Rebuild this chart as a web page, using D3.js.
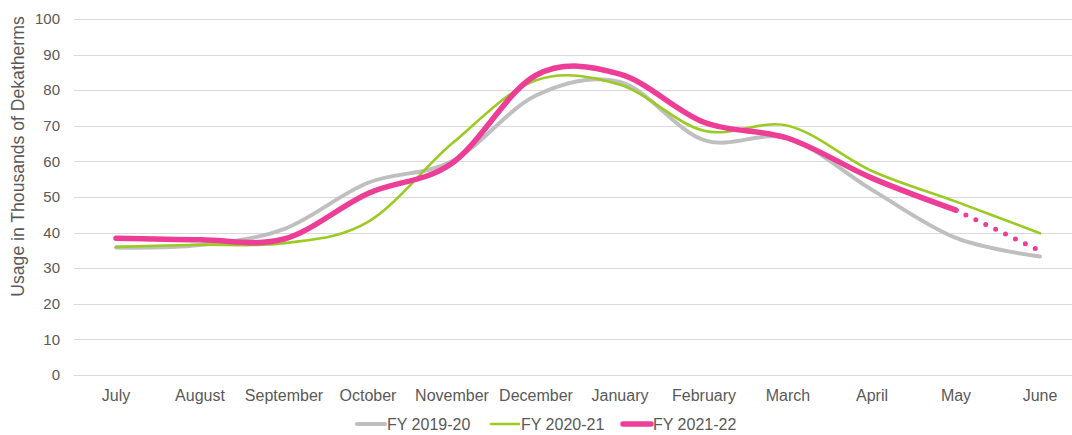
<!DOCTYPE html>
<html>
<head>
<meta charset="utf-8">
<script src="https://cdn.jsdelivr.net/npm/d3@7"></script>
<style>
  body { margin: 0; background: #fff; }
  svg { display: block; font-family: "Liberation Sans", Arial, sans-serif; }
</style>
</head>
<body>
<script>
(function (d3) {
  "use strict";

  /***** Data *****/
  var months = ["July", "August", "September", "October", "November", "December",
    "January", "February", "March", "April", "May", "June"];
  var fy1920 = [35.8, 36.5, 41, 54, 60, 78.5, 82.3, 66, 66.5, 52, 38.5, 33.3];
  var fy2021 = [36, 36.6, 37, 43, 65, 82.8, 81.5, 68.6, 70, 57.3, 48.7, 39.8];
  var fy2122 = [38.4, 38, 38.2, 51, 59.5, 84.2, 84.5, 71, 66.5, 55.3, 46.3];
  var fy2122Forecast = [null, null, null, null, null, null, null, null, null, null, 46.3, 34.9];
  var yTicks = [0, 10, 20, 30, 40, 50, 60, 70, 80, 90, 100];
  var seriesNames = ["FY 2019-20", "FY 2020-21", "FY 2021-22"];

  /***** Configuration *****/
  var W = 1072, H = 435;
  var margin = { top: 19, left: 74 };
  var plotRight = 1082;
  var plotBottom = 375;
  var textColor = "#595959";

  var x = d3.scaleBand().domain(months).range([margin.left, plotRight]);
  var y = d3.scaleLinear().domain([0, 100]).range([plotBottom, margin.top]);
  var cx = function (m) { return x(m) + x.bandwidth() / 2; };

  var svg = d3.select("body").append("svg")
    .attr("width", W)
    .attr("height", H);

  // gridlines
  svg.append("g").selectAll("line")
    .data(yTicks)
    .join("line")
    .attr("x1", margin.left).attr("x2", plotRight)
    .attr("y1", function (d) { return Math.round(y(d)) + 0.5; })
    .attr("y2", function (d) { return Math.round(y(d)) + 0.5; })
    .attr("stroke", "#D9D9D9")
    .attr("stroke-width", 1);

  // y tick labels
  svg.append("g").selectAll("text")
    .data(yTicks)
    .join("text")
    .attr("x", 60)
    .attr("y", function (d) { return y(d); })
    .attr("dy", "0.35em")
    .attr("text-anchor", "end")
    .attr("font-size", 15)
    .attr("fill", textColor)
    .text(function (d) { return d; });

  // x tick labels
  svg.append("g").selectAll("text")
    .data(months)
    .join("text")
    .attr("x", cx)
    .attr("y", 395)
    .attr("dy", "0.35em")
    .attr("text-anchor", "middle")
    .attr("font-size", 16)
    .attr("fill", textColor)
    .text(function (d) { return d; });

  // y axis title
  svg.append("text")
    .attr("transform", "translate(18,156.5) rotate(-90)")
    .attr("dy", "0.35em")
    .attr("text-anchor", "middle")
    .attr("font-size", 17.6)
    .attr("fill", textColor)
    .text("Usage in Thousands of Dekatherms");

  /***** Lines *****/
  var line = d3.line()
    .defined(function (d) { return d != null; })
    .x(function (d, i) { return cx(months[i]); })
    .y(function (d) { return y(d); })
    .curve(d3.curveCardinal.tension(0));

  var series = [
    { name: seriesNames[0], values: fy1920, color: "#BFBFBF", width: 4 },
    { name: seriesNames[1], values: fy2021, color: "#9BCB22", width: 2.6 },
    { name: seriesNames[2], values: fy2122, color: "#EE3D96", width: 5.5 }
  ];

  svg.append("g").selectAll("path")
    .data(series)
    .join("path")
    .attr("d", function (s) { return line(s.values); })
    .attr("fill", "none")
    .attr("stroke", function (s) { return s.color; })
    .attr("stroke-width", function (s) { return s.width; })
    .attr("stroke-linecap", "round")
    .attr("stroke-linejoin", "round");

  // forecast segment (dotted)
  svg.append("path")
    .attr("d", d3.line()
      .defined(function (d) { return d != null; })
      .x(function (d, i) { return cx(months[i]); })
      .y(function (d) { return y(d); })(fy2122Forecast))
    .attr("fill", "none")
    .attr("stroke", "#EE3D96")
    .attr("stroke-width", 5)
    .attr("stroke-linecap", "round")
    .attr("stroke-dasharray", "0 11");

  /***** Legend *****/
  var legendX = [357, 491, 623];
  var legend = svg.append("g").selectAll("g")
    .data(series)
    .join("g")
    .attr("transform", function (s, i) { return "translate(" + legendX[i] + ",424)"; });

  legend.append("line")
    .attr("x1", 0).attr("x2", 28)
    .attr("stroke", function (s) { return s.color; })
    .attr("stroke-width", function (s) { return s.width; })
    .attr("stroke-linecap", "round");

  legend.append("text")
    .attr("x", 30)
    .attr("dy", "0.35em")
    .attr("font-size", 16)
    .attr("fill", textColor)
    .text(function (s) { return s.name; });

})(d3);
</script>
</body>
</html>
